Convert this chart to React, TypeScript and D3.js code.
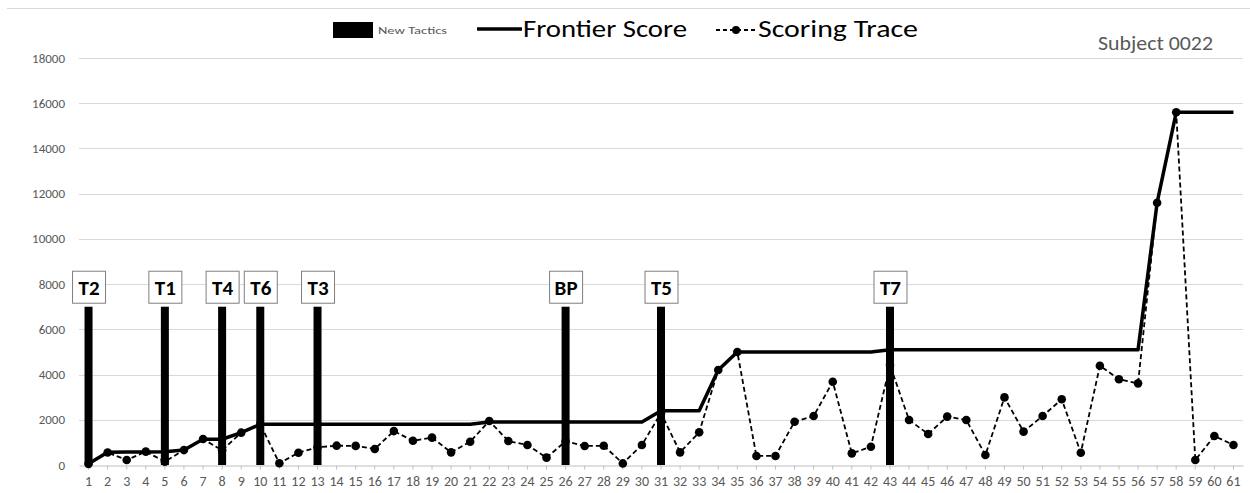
import { useEffect, useRef } from "react";
import * as d3 from "d3";

const attempts = d3.range(1, 62).map(String);

const frontierScore = [
  50, 560, 570, 580, 590, 660, 1140, 1140, 1430, 1800,
  1800, 1800, 1800, 1800, 1800, 1800, 1800, 1800, 1800, 1800,
  1800, 1900, 1900, 1900, 1900, 1900, 1900, 1900, 1900, 1900,
  2400, 2400, 2400, 4200, 5000, 5000, 5000, 5000, 5000, 5000,
  5000, 5000, 5100, 5100, 5100, 5100, 5100, 5100, 5100, 5100,
  5100, 5100, 5100, 5100, 5100, 5100, 11600, 15600, 15600, 15600, 15600,
];

const scoringTrace = [
  50, 550, 220, 590, 150, 660, 1150, 650, 1430, 1800,
  75, 545, 780, 855, 845, 710, 1500, 1070, 1210, 560,
  1030, 1945, 1060, 885, 325, 1050, 840, 850, 70, 885,
  2300, 560, 1445, 4200, 5000, 400, 400, 1915, 2165, 3685,
  515, 810, 4420, 1990, 1370, 2140, 1990, 440, 2990, 1475,
  2165, 2905, 545, 4390, 3790, 3610, 11600, 15600, 220, 1280, 885,
];

const tacticAttempts = ["1", "5", "8", "10", "13", "26", "31", "43"];
const tacticLabels = ["T2", "T1", "T4", "T6", "T3", "BP", "T5", "T7"];
const tacticValue = 7000;

const yTicks = d3.range(0, 18001, 2000);

const FONT = "Carlito, Calibri, Lato, 'Open Sans', sans-serif";

const App = () => {
  const svgRef = useRef<SVGSVGElement | null>(null);

  useEffect(() => {
    const width = 1250;
    const height = 493;
    const margin = { top: 58, right: 7, bottom: 28, left: 79 };

    const svg = d3.select(svgRef.current);
    svg.selectAll("*").remove();

    const x = d3
      .scaleBand()
      .domain(attempts)
      .range([margin.left, width - margin.right])
      .padding(0);

    const y = d3
      .scaleLinear()
      .domain([0, 18000])
      .range([height - margin.bottom, margin.top]);

    const cx = (d: string) => (x(d) ?? 0) + x.bandwidth() / 2;

    // chart border top edge
    svg
      .append("line")
      .attr("x1", 7)
      .attr("x2", width)
      .attr("y1", 8.5)
      .attr("y2", 8.5)
      .attr("stroke", "#d9d9d9");

    // grid lines
    svg
      .append("g")
      .selectAll("line")
      .data(yTicks.filter((d) => d > 0))
      .join("line")
      .attr("x1", margin.left)
      .attr("x2", width - margin.right)
      .attr("y1", (d) => Math.round(y(d)) + 0.5)
      .attr("y2", (d) => Math.round(y(d)) + 0.5)
      .attr("stroke", "#d9d9d9");

    // y labels
    svg
      .append("g")
      .selectAll("text")
      .data(yTicks)
      .join("text")
      .attr("x", 65)
      .attr("y", (d) => y(d))
      .attr("dy", "0.35em")
      .attr("text-anchor", "end")
      .attr("font-family", FONT)
      .attr("font-size", 13)
      .attr("fill", "#595959")
      .text((d) => d);

    // x axis
    svg
      .append("g")
      .attr("transform", `translate(0,${Math.round(y(0)) + 0.5})`)
      .call(d3.axisBottom(x).tickSize(4).tickSizeOuter(0).tickPadding(7))
      .call((g) => {
        g.selectAll(".domain").attr("stroke", "#bfbfbf");
        g.selectAll(".tick line").attr("stroke", "#bfbfbf");
        g.selectAll("text")
          .attr("fill", "#595959")
          .attr("font-family", FONT)
          .attr("font-size", 14);
      });

    // new tactics bars
    const barW = 8;
    svg
      .append("g")
      .selectAll("rect")
      .data(tacticAttempts)
      .join("rect")
      .attr("x", (d) => cx(d) - barW / 2)
      .attr("y", y(tacticValue))
      .attr("width", barW)
      .attr("height", y(0) - y(tacticValue))
      .attr("fill", "#000");

    // frontier score
    const line = d3
      .line<number>()
      .x((_, i) => cx(attempts[i]))
      .y((d) => y(d));

    svg
      .append("path")
      .datum(frontierScore)
      .attr("d", line)
      .attr("fill", "none")
      .attr("stroke", "#000")
      .attr("stroke-width", 3.5)
      .attr("stroke-linejoin", "round");

    // scoring trace
    svg
      .append("path")
      .datum(scoringTrace)
      .attr("d", line)
      .attr("fill", "none")
      .attr("stroke", "#000")
      .attr("stroke-width", 1.8)
      .attr("stroke-dasharray", "5,3");

    svg
      .append("g")
      .selectAll("circle")
      .data(scoringTrace)
      .join("circle")
      .attr("cx", (_, i) => cx(attempts[i]))
      .attr("cy", (d) => y(d))
      .attr("r", 4.3)
      .attr("fill", "#000");

    // tactic label boxes
    const boxW = 33;
    const boxH = 32;
    const labels = svg
      .append("g")
      .selectAll("g")
      .data(tacticAttempts)
      .join("g")
      .attr(
        "transform",
        (d) => `translate(${cx(d) - boxW / 2},${y(tacticValue) - 4 - boxH})`,
      );
    labels
      .append("rect")
      .attr("x", 0.5)
      .attr("y", 0.5)
      .attr("width", boxW)
      .attr("height", boxH)
      .attr("fill", "#fff")
      .attr("stroke", "#7f7f7f");
    labels
      .append("text")
      .attr("x", boxW / 2 + 0.5)
      .attr("y", boxH / 2 + 1)
      .attr("dy", "0.36em")
      .attr("text-anchor", "middle")
      .attr("font-family", FONT)
      .attr("font-weight", "bold")
      .attr("font-size", 21)
      .attr("fill", "#000")
      .text((_, i) => tacticLabels[i]);

    // legend
    const legend = svg.append("g");
    legend
      .append("rect")
      .attr("x", 333)
      .attr("y", 22)
      .attr("width", 40)
      .attr("height", 16)
      .attr("fill", "#000");
    legend
      .append("text")
      .attr("x", 378)
      .attr("y", 34)
      .attr("font-family", FONT)
      .attr("font-size", 11)
      .attr("fill", "#595959")
      .attr("textLength", 69)
      .attr("lengthAdjust", "spacingAndGlyphs")
      .text("New Tactics");

    legend
      .append("line")
      .attr("x1", 477)
      .attr("x2", 522)
      .attr("y1", 29)
      .attr("y2", 29)
      .attr("stroke", "#000")
      .attr("stroke-width", 3.5);
    legend
      .append("text")
      .attr("x", 523)
      .attr("y", 37)
      .attr("font-family", FONT)
      .attr("font-size", 24)
      .attr("fill", "#000")
      .attr("textLength", 164)
      .attr("lengthAdjust", "spacingAndGlyphs")
      .text("Frontier Score");

    legend
      .append("line")
      .attr("x1", 716)
      .attr("x2", 756)
      .attr("y1", 30)
      .attr("y2", 30)
      .attr("stroke", "#000")
      .attr("stroke-width", 1.8)
      .attr("stroke-dasharray", "4,3");
    legend
      .append("circle")
      .attr("cx", 736)
      .attr("cy", 30)
      .attr("r", 4)
      .attr("fill", "#000");
    legend
      .append("text")
      .attr("x", 758)
      .attr("y", 37)
      .attr("font-family", FONT)
      .attr("font-size", 24)
      .attr("fill", "#000")
      .attr("textLength", 160)
      .attr("lengthAdjust", "spacingAndGlyphs")
      .text("Scoring Trace");

    svg
      .append("text")
      .attr("x", 1098)
      .attr("y", 50)
      .attr("font-family", FONT)
      .attr("font-size", 20)
      .attr("fill", "#595959")
      .attr("textLength", 115)
      .attr("lengthAdjust", "spacingAndGlyphs")
      .text("Subject 0022");
  }, []);

  return (
    <svg
      ref={svgRef}
      width={1250}
      height={493}
      style={{ position: "absolute", left: 0, top: 0, background: "white" }}
    />
  );
};

export default App;
